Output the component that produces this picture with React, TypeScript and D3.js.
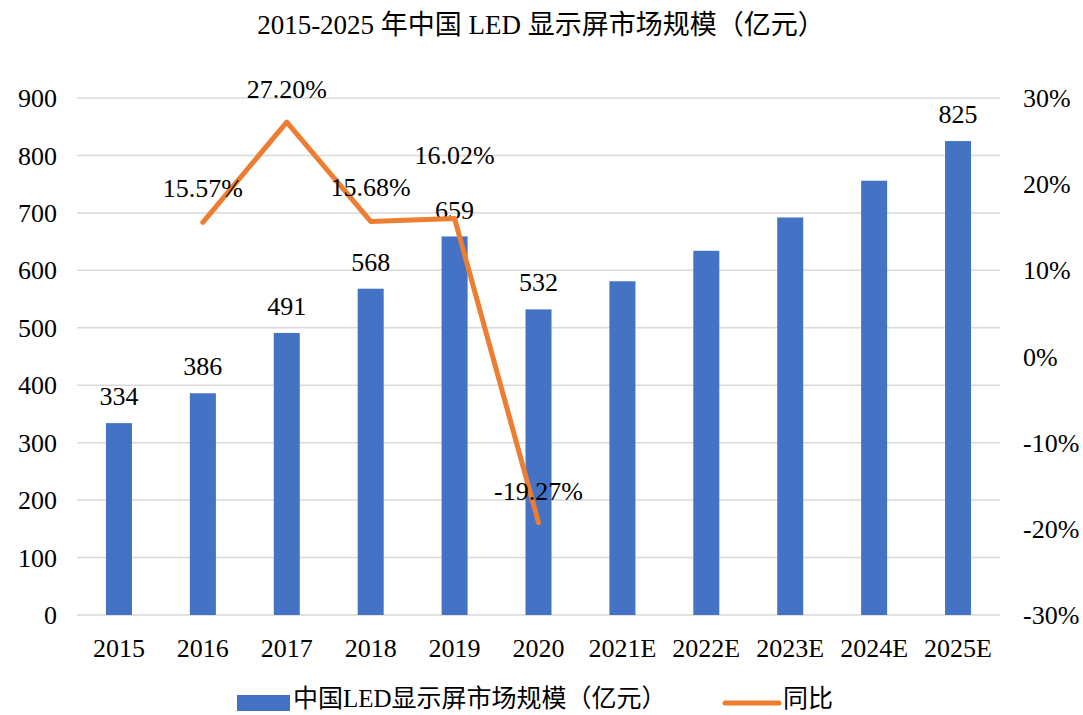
import React from "react";
import * as d3 from "d3";

const categories = ["2015", "2016", "2017", "2018", "2019", "2020", "2021E", "2022E", "2023E", "2024E", "2025E"];
const marketSize = [334, 386, 491, 568, 659, 532, 581, 634, 692, 756, 825];
const showSizeLabel = [true, true, true, true, true, true, false, false, false, false, true];
const growthYears = ["2016", "2017", "2018", "2019", "2020"];
const growthRate = [15.57, 27.2, 15.68, 16.02, -19.27];
const growthLabelLift = [34, 33, 34, 64, 32];
const leftTicks = [0, 100, 200, 300, 400, 500, 600, 700, 800, 900];
const rightTicks = [-30, -20, -10, 0, 10, 20, 30];

const W = 1083;
const H = 715;
const M = { left: 77, right: 1000, top: 98, bottom: 615 };
const FONT = "'Liberation Serif', 'Times New Roman', 'Noto Sans CJK SC', serif";
const FS = 26;

export default function App() {
  const x = d3.scaleBand<string>().domain(categories).range([M.left, M.right]).paddingInner(0.69).paddingOuter(0.345);
  const y = d3.scaleLinear().domain([0, 900]).range([M.bottom, M.top]);
  const y2 = d3.scaleLinear().domain([-30, 30]).range([M.bottom, M.top]);
  const cx = (c: string) => (x(c) as number) + x.bandwidth() / 2;
  const line = d3
    .line<number>()
    .x((_, i) => cx(growthYears[i]))
    .y((d) => y2(d));

  return (
    <svg width={W} height={H} style={{ position: "absolute", left: 0, top: 0, background: "#fff" }}>
      <rect width={W} height={H} fill="#fff" />
      <text x={541} y={25} dy="0.35em" textAnchor="middle" fontFamily={FONT} fontSize={27} fill="#000">
        2015-2025 年中国 LED 显示屏市场规模（亿元）
      </text>
      {leftTicks.map((t) => (
        <g key={t}>
          <line x1={M.left} x2={M.right} y1={y(t)} y2={y(t)} stroke="#D9D9D9" strokeWidth={1.5} />
          <text x={57} y={y(t)} dy="0.35em" textAnchor="end" fontFamily={FONT} fontSize={FS} fill="#000">
            {t}
          </text>
        </g>
      ))}
      {rightTicks.map((t) => (
        <text key={t} x={1023} y={y2(t)} dy="0.35em" textAnchor="start" fontFamily={FONT} fontSize={FS} fill="#000">
          {t}%
        </text>
      ))}
      {categories.map((c, i) => (
        <g key={c}>
          <rect x={x(c)} y={y(marketSize[i])} width={x.bandwidth()} height={y(0) - y(marketSize[i])} fill="#4472C4" />
          {showSizeLabel[i] && (
            <text x={cx(c)} y={y(marketSize[i]) - 27} dy="0.35em" textAnchor="middle" fontFamily={FONT} fontSize={FS} fill="#000">
              {marketSize[i]}
            </text>
          )}
          <text x={cx(c)} y={648} dy="0.35em" textAnchor="middle" fontFamily={FONT} fontSize={FS} fill="#000">
            {c}
          </text>
        </g>
      ))}
      <path d={line(growthRate) || ""} fill="none" stroke="#ED7D31" strokeWidth={5} strokeLinejoin="round" strokeLinecap="round" />
      {growthRate.map((g, i) => (
        <text key={i} x={cx(growthYears[i])} y={y2(g) - growthLabelLift[i]} dy="0.35em" textAnchor="middle" fontFamily={FONT} fontSize={FS} fill="#000">
          {g.toFixed(2)}%
        </text>
      ))}
      <rect x={237} y={695} width={53} height={16} fill="#4472C4" />
      <text x={293} y={698} dy="0.35em" fontFamily={FONT} fontSize={25} fill="#000">
        中国LED显示屏市场规模（亿元）
      </text>
      <line x1={725} x2={779} y1={703} y2={703} stroke="#ED7D31" strokeWidth={5} strokeLinecap="round" />
      <text x={783} y={698} dy="0.35em" fontFamily={FONT} fontSize={25} fill="#000">
        同比
      </text>
    </svg>
  );
}
